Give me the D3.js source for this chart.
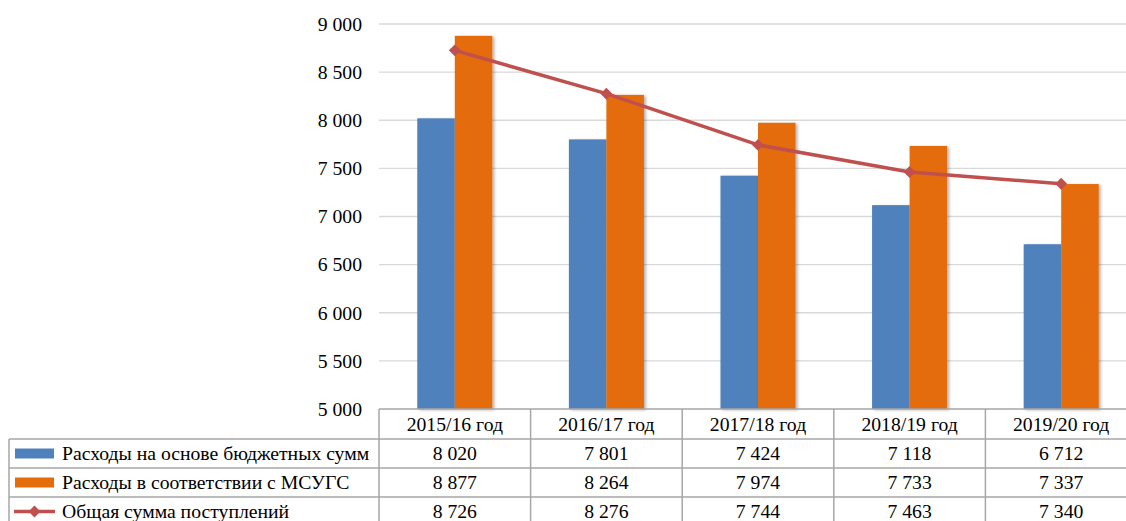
<!DOCTYPE html>
<html><head><meta charset="utf-8">
<script src="https://cdn.jsdelivr.net/npm/d3@7"></script>
<style>
html,body{margin:0;padding:0;background:#fff;}
svg text{font-family:"Liberation Serif",serif !important;}
</style></head>
<body>
<svg id="c" width="1126" height="521"></svg>
<script>
const categories = ["2015/16 год","2016/17 год","2017/18 год","2018/19 год","2019/20 год"];
const seriesNames = ["Расходы на основе бюджетных сумм","Расходы в соответствии с МСУГС","Общая сумма поступлений"];
const budgetValues = [8020, 7801, 7424, 7118, 6712];
const ipsasValues = [8877, 8264, 7974, 7733, 7337];
const revenueValues = [8726, 8276, 7744, 7463, 7340];
const yTicks = [5000, 5500, 6000, 6500, 7000, 7500, 8000, 8500, 9000];
const colors = ["#4F81BD", "#E46C0A", "#C0504D"];

const svg = d3.select("#c");
const fmt = d3.formatLocale({decimal: ",", thousands: " ", grouping: [3], currency: ["", ""]}).format(",d");
const FS = 19.7;
const FF = "Liberation Serif";

const x = d3.scaleBand().domain(categories).range([379, 1137]).paddingInner(0).paddingOuter(0);
const x1 = d3.scaleBand().domain([0, 1]).range([0, x.bandwidth()]).paddingInner(0).paddingOuter(1.02);
const y = d3.scaleLinear().domain([5000, 9000]).range([409, 24]);

const defs = svg.append("defs");
const f = defs.append("filter").attr("id", "sh").attr("x", "-20%").attr("y", "-5%").attr("width", "150%").attr("height", "115%");
f.append("feDropShadow").attr("dx", 2).attr("dy", 1).attr("stdDeviation", 1.5).attr("flood-color", "#000").attr("flood-opacity", 0.3);

// gridlines
svg.append("g").selectAll("line").data(yTicks.filter(d => d > 5000)).join("line")
  .attr("x1", 379).attr("x2", 1137)
  .attr("y1", d => y(d)).attr("y2", d => y(d))
  .attr("stroke", "#d9d9d9").attr("stroke-width", 1.3);

// y axis labels
const yAxis = d3.axisLeft(y).tickValues(yTicks).tickFormat(fmt).tickSize(0).tickPadding(0);
const ya = svg.append("g").attr("transform", "translate(362,0)").call(yAxis)
  .attr("font-family", FF).attr("font-size", FS);
ya.select(".domain").remove();
ya.selectAll("text").attr("font-size", FS).attr("font-family", FF).attr("fill", "#000");

// bars
const barData = [budgetValues, ipsasValues];
barData.forEach((vals, si) => {
  svg.append("g").attr("filter", "url(#sh)").selectAll("rect").data(vals).join("rect")
    .attr("x", (d, i) => x(categories[i]) + x1(si))
    .attr("width", x1.bandwidth())
    .attr("y", d => y(d))
    .attr("height", d => y(5000) - y(d))
    .attr("fill", colors[si]);
});

// line
const cx = c => x(c) + x.bandwidth() / 2;
const line = d3.line().x((d, i) => cx(categories[i])).y(d => y(d));
svg.append("path").datum(revenueValues).attr("d", line)
  .attr("fill", "none").attr("stroke", colors[2]).attr("stroke-width", 3.5).attr("stroke-linejoin", "round");
const diamond = d3.symbol().type(d3.symbolDiamond2).size(90);
svg.append("g").selectAll("path").data(revenueValues).join("path")
  .attr("d", diamond)
  .attr("transform", (d, i) => `translate(${cx(categories[i])},${y(d)})`)
  .attr("fill", colors[2]);

// data table
const rowY = [409, 439, 468, 497, 526];
const tg = svg.append("g").attr("font-family", FF).attr("font-size", FS);
const bc = "#a6a6a6";
tg.append("line").attr("x1", 379).attr("x2", 1137).attr("y1", rowY[0]).attr("y2", rowY[0]).attr("stroke", bc).attr("stroke-width", 1.5);
[1, 2, 3, 4].forEach(r => {
  tg.append("line").attr("x1", 9).attr("x2", 1137).attr("y1", rowY[r]).attr("y2", rowY[r]).attr("stroke", bc).attr("stroke-width", 1.5);
});
categories.forEach(c => {
  tg.append("line").attr("x1", x(c)).attr("x2", x(c)).attr("y1", rowY[0]).attr("y2", rowY[4]).attr("stroke", bc).attr("stroke-width", 1.5);
});
tg.append("line").attr("x1", x.range()[1]).attr("x2", x.range()[1]).attr("y1", rowY[0]).attr("y2", rowY[4]).attr("stroke", bc).attr("stroke-width", 1.5);
tg.append("line").attr("x1", 9).attr("x2", 9).attr("y1", rowY[1]).attr("y2", rowY[4]).attr("stroke", bc).attr("stroke-width", 1.5);

tg.append("g").selectAll("text").data(categories).join("text")
  .attr("x", d => cx(d)).attr("y", (rowY[0] + rowY[1]) / 2).attr("dy", "0.35em")
  .attr("text-anchor", "middle").attr("font-family", FF).attr("font-size", FS).text(d => d);

const allVals = [budgetValues, ipsasValues, revenueValues];
allVals.forEach((vals, si) => {
  const ry = (rowY[si + 1] + rowY[si + 2]) / 2;
  tg.append("g").selectAll("text").data(vals).join("text")
    .attr("x", (d, i) => cx(categories[i])).attr("y", ry).attr("dy", "0.35em")
    .attr("text-anchor", "middle").attr("font-family", FF).attr("font-size", FS).text(d => fmt(d));
  if (si < 2) {
    tg.append("rect").attr("x", 15).attr("y", ry - 5).attr("width", 39).attr("height", 10).attr("fill", colors[si]);
  } else {
    tg.append("line").attr("x1", 14).attr("x2", 55).attr("y1", ry).attr("y2", ry).attr("stroke", colors[2]).attr("stroke-width", 3.5);
    tg.append("path").attr("d", diamond).attr("transform", `translate(34.5,${ry})`).attr("fill", colors[2]);
  }
  tg.append("text").attr("x", 62).attr("y", ry).attr("dy", "0.35em").attr("font-family", FF).attr("font-size", FS).text(seriesNames[si]);
});
</script>
</body></html>
